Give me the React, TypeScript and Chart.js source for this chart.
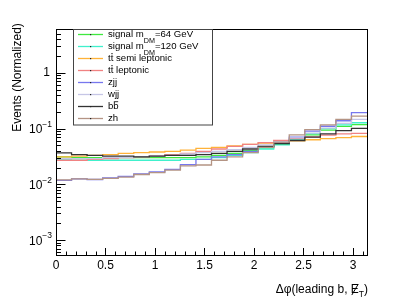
import React, { useEffect, useRef } from "react";
import { Chart, registerables } from "chart.js";
Chart.register(...registerables);

const FONT = '"Liberation Sans", Arial, Helvetica, sans-serif';

// ---- axis / bins ----
const binCount = 20;
const xMin = 0;
const xMax = Math.PI;
const yMin = 5.4e-4;
const yMax = 6.1;
const xMajorTicks = [0, 0.5, 1, 1.5, 2, 2.5, 3];
const xTickLabels = ["0", "0.5", "1", "1.5", "2", "2.5", "3"];
const yMajorTicks = [1e-3, 1e-2, 1e-1, 1];
const yTickBase = ["10", "10", "10", "1"];
const yTickExp = ["\u22123", "\u22122", "\u22121", ""];

// ---- series (normalized bin contents, 20 bins over [0, pi]) ----
const sig64 = [0.031, 0.030, 0.030, 0.030, 0.030, 0.030, 0.030, 0.030, 0.030, 0.031, 0.033, 0.036, 0.040, 0.045, 0.052, 0.062, 0.077, 0.094, 0.109, 0.118];
const sig120 = [0.028, 0.027, 0.027, 0.027, 0.027, 0.027, 0.027, 0.027, 0.028, 0.028, 0.030, 0.033, 0.037, 0.043, 0.051, 0.064, 0.081, 0.100, 0.116, 0.127];
const ttSemi = [0.031, 0.032, 0.033, 0.034, 0.036, 0.037, 0.038, 0.039, 0.041, 0.044, 0.046, 0.049, 0.052, 0.055, 0.057, 0.060, 0.063, 0.066, 0.069, 0.072];
const ttLep = [0.027, 0.027, 0.028, 0.029, 0.030, 0.031, 0.032, 0.034, 0.036, 0.039, 0.043, 0.048, 0.052, 0.056, 0.061, 0.066, 0.071, 0.076, 0.080, 0.082];
const zjj = [0.0118, 0.0125, 0.0122, 0.0130, 0.0139, 0.0154, 0.0167, 0.0185, 0.0225, 0.028, 0.031, 0.034, 0.039, 0.047, 0.057, 0.070, 0.090, 0.110, 0.138, 0.193];
const wjj = [0.029, 0.029, 0.029, 0.030, 0.030, 0.031, 0.032, 0.033, 0.035, 0.037, 0.039, 0.042, 0.046, 0.051, 0.058, 0.068, 0.083, 0.102, 0.124, 0.146];
const bb = [0.0366, 0.034, 0.033, 0.032, 0.032, 0.031, 0.032, 0.033, 0.033, 0.034, 0.036, 0.039, 0.043, 0.048, 0.054, 0.061, 0.070, 0.080, 0.092, 0.101];
const zh = [0.0120, 0.0125, 0.0123, 0.0128, 0.0135, 0.0150, 0.0162, 0.0180, 0.0215, 0.0222, 0.027, 0.031, 0.037, 0.046, 0.057, 0.077, 0.096, 0.116, 0.146, 0.167];

const seriesValues = [sig64, sig120, ttSemi, ttLep, zjj, wjj, bb, zh];
const seriesNames = ["signal m_DM=64 GeV", "signal m_DM=120 GeV", "tt\u0304 semi leptonic", "tt\u0304 leptonic", "zjj", "wjj", "bb\u0304", "zh"];
const seriesColors = ["#3fe83f", "#40f0cc", "#ffb238", "#f08282", "#7777ee", "#c6c6e6", "#333333", "#b49484"];

type Seg = { t: string; sub?: boolean; bar?: boolean; slash?: boolean };
const legendParts: Seg[][] = [
  [{ t: "signal m" }, { t: "DM", sub: true }, { t: "=64 GeV" }],
  [{ t: "signal m" }, { t: "DM", sub: true }, { t: "=120 GeV" }],
  [{ t: "t" }, { t: "t", bar: true }, { t: " semi leptonic" }],
  [{ t: "t" }, { t: "t", bar: true }, { t: " leptonic" }],
  [{ t: "zjj" }],
  [{ t: "wjj" }],
  [{ t: "b" }, { t: "b", bar: true }],
  [{ t: "zh" }],
];
const xTitle: Seg[] = [{ t: "\u0394\u03c6(leading b, " }, { t: "E", slash: true }, { t: "T", sub: true }, { t: ")" }];
const yTitle = "Events (Normalized)";

function binPoints(vals: number[]) {
  const w = (xMax - xMin) / binCount;
  const pts = vals.map((v, i) => ({ x: xMin + i * w, y: v }));
  pts.push({ x: xMax, y: vals[vals.length - 1] });
  return pts;
}

function segWidth(ctx: CanvasRenderingContext2D, segs: Seg[], size: number, subSize: number) {
  let w = 0;
  for (const s of segs) {
    ctx.font = `${s.sub ? subSize : size}px ${FONT}`;
    w += ctx.measureText(s.t).width;
  }
  return w;
}

function drawSegs(ctx: CanvasRenderingContext2D, segs: Seg[], x: number, y: number, size: number, subSize: number, subDy: number) {
  ctx.textBaseline = "middle";
  ctx.textAlign = "left";
  let cx = x;
  for (const s of segs) {
    ctx.font = `${s.sub ? subSize : size}px ${FONT}`;
    const w = ctx.measureText(s.t).width;
    ctx.fillText(s.t, cx, s.sub ? y + subDy : y);
    if (s.bar) {
      ctx.beginPath();
      ctx.lineWidth = 0.8;
      ctx.moveTo(cx + 0.5, y - size * 0.5);
      ctx.lineTo(cx + w - 0.5, y - size * 0.5);
      ctx.stroke();
    }
    if (s.slash) {
      ctx.beginPath();
      ctx.lineWidth = 1;
      ctx.moveTo(cx + 1, y + size * 0.42);
      ctx.lineTo(cx + w - 0.5, y - size * 0.5);
      ctx.stroke();
    }
    cx += w;
  }
}

const rootPlugin = {
  id: "rootStyle",
  afterDraw(chart: any) {
    const ctx: CanvasRenderingContext2D = chart.ctx;
    const xs = chart.scales.x;
    const ys = chart.scales.y;
    const { left, right, top, bottom } = chart.chartArea;
    ctx.save();
    ctx.strokeStyle = "#000";
    ctx.fillStyle = "#000";
    ctx.lineWidth = 1;
    // frame
    ctx.strokeRect(Math.round(left) + 0.5, Math.round(top) + 0.5, Math.round(right - left), Math.round(bottom - top));

    // x ticks
    ctx.beginPath();
    for (let k = 0; k <= 40; k++) {
      const v = k / 10;
      if (v > xMax) break;
      const px = Math.round(xs.getPixelForValue(v)) + 0.5;
      const len = k % 5 === 0 ? 7 : 3.5;
      ctx.moveTo(px, bottom);
      ctx.lineTo(px, bottom - len);
    }
    // y ticks
    for (let e = -4; e <= 1; e++) {
      for (let m = 1; m <= 9; m++) {
        const v = m * Math.pow(10, e);
        if (v < yMin || v > yMax) continue;
        const py = Math.round(ys.getPixelForValue(v)) + 0.5;
        const len = m === 1 ? 9.5 : 5;
        ctx.moveTo(left, py);
        ctx.lineTo(left + len, py);
      }
    }
    ctx.stroke();

    // x tick labels
    ctx.font = `12px ${FONT}`;
    ctx.textAlign = "center";
    ctx.textBaseline = "middle";
    xMajorTicks.forEach((v, i) => {
      ctx.fillText(xTickLabels[i], xs.getPixelForValue(v), 265.5);
    });

    // y tick labels
    yMajorTicks.forEach((v, i) => {
      const py = ys.getPixelForValue(v);
      const base = yTickBase[i];
      const exp = yTickExp[i];
      const rx = 52;
      ctx.textBaseline = "middle";
      if (exp) {
        ctx.font = `8.5px ${FONT}`;
        const ew = ctx.measureText(exp).width;
        ctx.textAlign = "right";
        ctx.fillText(exp, rx, py - 4);
        ctx.font = `12px ${FONT}`;
        ctx.fillText(base, rx - ew, py + 1.5);
      } else {
        ctx.font = `12px ${FONT}`;
        ctx.textAlign = "right";
        ctx.fillText(base, rx - 2, py);
      }
    });

    // axis titles
    ctx.save();
    ctx.translate(18, 77.5);
    ctx.rotate(-Math.PI / 2);
    ctx.font = `12px ${FONT}`;
    ctx.textAlign = "center";
    ctx.textBaseline = "middle";
    ctx.fillText(yTitle, 0, 0);
    ctx.restore();

    const tw = segWidth(ctx, xTitle, 12, 8.5);
    drawSegs(ctx, xTitle, 368 - tw, 290, 12, 8.5, 5);

    // legend
    const lx = 73.5, ly = 29.5, lw = 139, lh = 95.5;
    ctx.fillStyle = "#fff";
    ctx.fillRect(lx, ly, lw, lh);
    ctx.strokeStyle = "#444";
    ctx.lineWidth = 1;
    ctx.strokeRect(lx, ly, lw, lh);
    seriesNames.forEach((_, i) => {
      const cy = 34.5 + i * 12;
      ctx.strokeStyle = seriesColors[i];
      ctx.lineWidth = 1.3;
      ctx.beginPath();
      ctx.moveTo(78, cy);
      ctx.lineTo(103, cy);
      ctx.stroke();
      ctx.fillStyle = "#222";
      ctx.fillRect(90, cy - 0.5, 1.2, 1.2);
      ctx.fillStyle = "#000";
      ctx.strokeStyle = "#000";
      drawSegs(ctx, legendParts[i], 108, cy, 9.6, 7.2, 7);
    });
    ctx.restore();
  },
};

export default function App() {
  const ref = useRef<HTMLCanvasElement>(null);
  useEffect(() => {
    const datasets = seriesValues.map((vals, i) => ({
      label: seriesNames[i],
      data: binPoints(vals),
      borderColor: seriesColors[i],
      backgroundColor: seriesColors[i],
      borderWidth: 1.3,
      pointRadius: 0,
      stepped: true as const,
      fill: false,
      order: seriesValues.length - 1 - i,
    }));
    const chart = new Chart(ref.current!, {
      type: "line",
      data: { datasets },
      options: {
        responsive: false,
        maintainAspectRatio: false,
        devicePixelRatio: 1,
        animation: false,
        layout: { padding: { top: 29, right: 42, left: 0, bottom: 0 } },
        plugins: { legend: { display: false }, tooltip: { enabled: false } },
        scales: {
          x: {
            type: "linear",
            min: xMin,
            max: xMax,
            bounds: "data",
            ticks: { display: false },
            grid: { display: false },
            border: { display: false },
            afterFit: (s: any) => { s.height = 45; },
          },
          y: {
            type: "logarithmic",
            min: yMin,
            max: yMax,
            ticks: { display: false },
            grid: { display: false },
            border: { display: false },
            afterFit: (s: any) => { s.width = 56; },
          },
        },
      },
      plugins: [rootPlugin],
    } as any);
    return () => chart.destroy();
  }, []);
  return (
    <div style={{ position: "fixed", left: 0, top: 0, width: 409, height: 300, background: "#fff" }}>
      <canvas ref={ref} width={409} height={300} style={{ display: "block", width: 409, height: 300 }} />
    </div>
  );
}
